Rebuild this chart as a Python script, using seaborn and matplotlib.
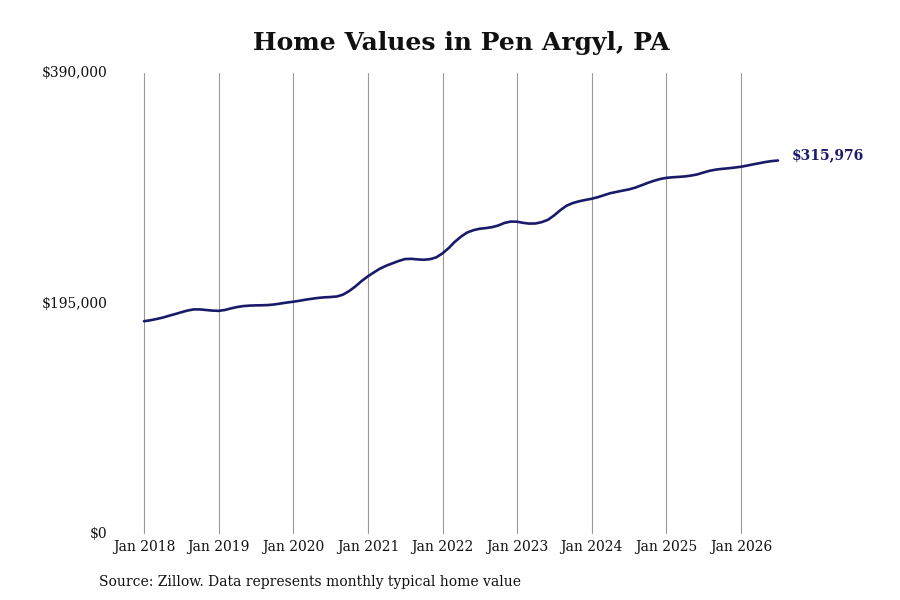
import matplotlib; matplotlib.use('Agg')
import matplotlib.pyplot as plt
import matplotlib.dates as mdates
import matplotlib.ticker as mticker
import numpy as np
import pandas as pd
import seaborn as sns

# ─────────────────────────────────────────────────────────────────────────────
# DATA (monthly typical home value)
# ─────────────────────────────────────────────────────────────────────────────
START_MONTH = "2018-01-01"
HOME_VALUES = [
    180000, 180800, 181800, 183000, 184500, 186000, 187500, 189000, 190000, 190000, 189500, 189000,
    188800, 189500, 190800, 192000, 192800, 193200, 193400, 193500, 193700, 194200, 195000, 195800,
    196500, 197300, 198200, 199000, 199700, 200200, 200500, 200900, 202500, 205500, 209500, 214000,
    218000, 221500, 224500, 227000, 229000, 231000, 232600, 232800, 232300, 232000, 232500, 234000,
    237400, 242000, 247000, 251500, 255000, 257000, 258200, 258800, 259600, 261000, 263200, 264300,
    264200, 263200, 262600, 262700, 263800, 265800, 269500, 274000, 277800, 280000, 281500, 282600,
    283600, 285000, 286600, 288300, 289400, 290500, 291500, 293000, 295000, 297000, 298800, 300300,
    301300, 301800, 302100, 302500, 303200, 304200, 305800, 307300, 308300, 308900, 309400, 310000,
    310700, 311700, 312700, 313700, 314700, 315500, 315976,
]
Y_TICKS = [0, 195000, 390000]
TITLE = "Home Values in Pen Argyl, PA"
SOURCE = "Source: Zillow. Data represents monthly typical home value"

LINE_COLOR = "#1a1a6a"

df = pd.DataFrame({
    "date": pd.date_range(START_MONTH, periods=len(HOME_VALUES), freq="MS"),
    "value": HOME_VALUES,
})

# ─────────────────────────────────────────────────────────────────────────────
# PLOT
# ─────────────────────────────────────────────────────────────────────────────
sns.set_theme(style="white")
plt.rcParams['font.family'] = ['DejaVu Serif']

fig = plt.figure(figsize=(9, 6), dpi=100)
ax = fig.add_axes([120 / 900, 1 - 534 / 600, 680 / 900, 461 / 600])

sns.lineplot(data=df, x="date", y="value", ax=ax, color=LINE_COLOR, linewidth=1.9)

# x-limits so that Jan 2018 sits ~24px in from the left edge
px_per_day = (741 - 144) / (pd.Timestamp("2026-01-01") - pd.Timestamp("2018-01-01")).days
x0 = pd.Timestamp("2018-01-01") - pd.Timedelta(days=24 / px_per_day)
x1 = pd.Timestamp("2018-01-01") + pd.Timedelta(days=(800 - 144) / px_per_day)
ax.set_xlim(x0, x1)
ax.set_ylim(0, 390000)

ax.xaxis.set_major_locator(mdates.YearLocator(month=1, day=1))
ax.xaxis.set_major_formatter(mdates.DateFormatter("Jan %Y"))
ax.set_yticks(Y_TICKS)
ax.yaxis.set_major_formatter(mticker.FuncFormatter(lambda v, p: f"${v:,.0f}"))

ax.grid(axis="x", color="#999999", linewidth=0.8)
ax.grid(axis="y", visible=False)
for s in ax.spines.values():
    s.set_visible(False)
ax.tick_params(axis="both", length=0, labelsize=10, colors="#111111")
ax.tick_params(axis="x", pad=4)
ax.tick_params(axis="y", pad=9)
for lbl in ax.get_yticklabels():
    lbl.set_verticalalignment("center")
ax.set_xlabel("")
ax.set_ylabel("")

# end-of-line label
last = df.iloc[-1]
ax.annotate(f"${last['value']:,.0f}", xy=(last["date"], last["value"]),
            xytext=(10, 4), textcoords="offset points",
            fontsize=10, fontweight="bold", color=LINE_COLOR, va="center")

fig.text(461 / 900, 1 - 43 / 600, TITLE, ha="center", va="center",
         fontsize=18, fontweight="bold", color="#111111")
fig.text(99 / 900, 1 - 582 / 600, SOURCE, ha="left", va="center",
         fontsize=10, color="#111111")

fig.savefig("out.png", dpi=100)
